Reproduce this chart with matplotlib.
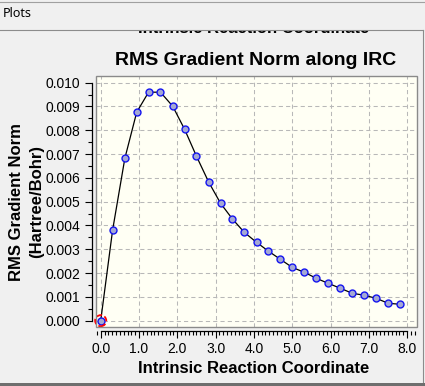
import matplotlib
matplotlib.use("Agg")
import matplotlib.pyplot as plt
from matplotlib.patches import Rectangle
from matplotlib.lines import Line2D
from matplotlib.ticker import MultipleLocator, FormatStrFormatter

plt.rcParams['font.family'] = ['Liberation Sans', 'DejaVu Sans']

# Data
irc_x = [0.00, 0.31, 0.63, 0.94, 1.25, 1.56, 1.88, 2.19, 2.50, 2.82,
         3.13, 3.44, 3.75, 4.07, 4.38, 4.69, 5.00, 5.32, 5.63, 5.94,
         6.26, 6.57, 6.88, 7.19, 7.51, 7.82]
rms_grad = [0.00000, 0.00380, 0.00682, 0.00876, 0.00960, 0.00960, 0.00901, 0.00804,
            0.00691, 0.00582, 0.00493, 0.00427, 0.00371, 0.00329, 0.00292, 0.00258,
            0.00224, 0.00203, 0.00178, 0.00157, 0.00136, 0.00115, 0.00107, 0.00094,
            0.00073, 0.00069]
x_ticks = [0.0, 1.0, 2.0, 3.0, 4.0, 5.0, 6.0, 7.0, 8.0]
y_ticks = [0.000, 0.001, 0.002, 0.003, 0.004, 0.005, 0.006, 0.007, 0.008, 0.009, 0.010]

title = "RMS Gradient Norm along IRC"
xlabel = "Intrinsic Reaction Coordinate"
ylabel1 = "RMS Gradient Norm"
ylabel2 = "(Hartree/Bohr)"

W, H = 425, 386
fig = plt.figure(figsize=(W / 100, H / 100), dpi=100)
fig.patch.set_facecolor('#f0f0f0')

def fx(px):
    return px / W

def fy(py):
    return 1 - py / H

ax = fig.add_axes([fx(96), fy(327), (417 - 96) / W, (327 - 76) / H])
ax.set_facecolor('#fffff4')

ax.plot(irc_x, rms_grad, color='black', lw=0.9, zorder=3)
ax.plot(irc_x, rms_grad, ls='none', marker='o', ms=5.0, mfc='#a4a8d4',
        mec='#1414f0', mew=1.0, zorder=4)
ax.scatter(irc_x[:1], rms_grad[:1], s=64, facecolors='none',
           edgecolors='#ff0000', linewidths=1.3, linestyles=(0, (3, 1.5)),
           zorder=5, clip_on=False)

ax.set_xlim(-0.123, 8.258)
ax.set_ylim(-0.000265, 0.01028)

ax.set_xticks(x_ticks)
ax.set_yticks(y_ticks)
ax.xaxis.set_minor_locator(MultipleLocator(0.1))
ax.yaxis.set_minor_locator(MultipleLocator(0.0005))
ax.xaxis.set_major_formatter(FormatStrFormatter('%.1f'))
ax.yaxis.set_major_formatter(FormatStrFormatter('%.3f'))

ax.grid(True, which='major', color='#b8b8b8', lw=0.75, ls=(0, (4, 3)), zorder=1)

for s in ['top', 'right']:
    ax.spines[s].set_visible(False)
ax.spines['left'].set_position(('outward', 3.1))
ax.spines['bottom'].set_position(('outward', 2.9))
ax.spines['left'].set_bounds(0.0, 0.010)
ax.spines['bottom'].set_bounds(0.0, 8.0)
for s in ['left', 'bottom']:
    ax.spines[s].set_linewidth(0.9)
    ax.spines[s].set_color('black')

ax.tick_params(which='major', direction='out', length=5, width=0.8,
               labelsize=10, colors='black', pad=3)
ax.tick_params(which='minor', direction='out', length=3, width=0.8, colors='black')

box = Rectangle((0, 0), 1, 1, transform=ax.transAxes, fill=False,
                edgecolor='#8a8a8a', lw=1.0, clip_on=False, zorder=6)
ax.add_patch(box)

# Titles and labels
fig.text(fx(256), fy(65), title, ha='center', va='baseline',
         fontsize=14, fontweight='bold')
fig.text(fx(254), fy(373), xlabel, ha='center', va='baseline',
         fontsize=12, fontweight='bold')
fig.text(fx(17), fy(202), ylabel1, ha='center', va='center', rotation=90,
         fontsize=12, fontweight='bold')
fig.text(fx(37), fy(202), ylabel2, ha='center', va='center', rotation=90,
         fontsize=12, fontweight='bold')

# Scrolled-off copy of the x label at the top, partially hidden by the header
fig.text(fx(254), fy(33), xlabel, ha='center', va='baseline',
         fontsize=12, fontweight='bold', zorder=2)
header = Rectangle((0, fy(29.5)), 1, 29.5 / H, transform=fig.transFigure,
                   facecolor='#f0f0f0', edgecolor='none', zorder=5)
fig.add_artist(header)
fig.add_artist(Line2D([0, 1], [fy(2), fy(2)], transform=fig.transFigure,
                      color='#a0a0a0', lw=0.8, zorder=6))
fig.add_artist(Line2D([0, fx(423)], [fy(29.5), fy(29.5)], transform=fig.transFigure,
                      color='#8c8c8c', lw=0.8, zorder=6))
fig.add_artist(Line2D([fx(422.7), fx(422.7)], [fy(29.5), fy(383)], transform=fig.transFigure,
                      color='#8c8c8c', lw=0.8, zorder=6))
fig.add_artist(Rectangle((0, 0), 1, 3 / H, transform=fig.transFigure,
                         facecolor='#6e6e6e', edgecolor='none', zorder=6))
fig.text(fx(3), fy(17.3), "Plots", ha='left', va='baseline', fontsize=9,
         family=['Noto Sans', 'DejaVu Sans'], zorder=7)

fig.savefig('out.png', dpi=100, facecolor=fig.get_facecolor())
